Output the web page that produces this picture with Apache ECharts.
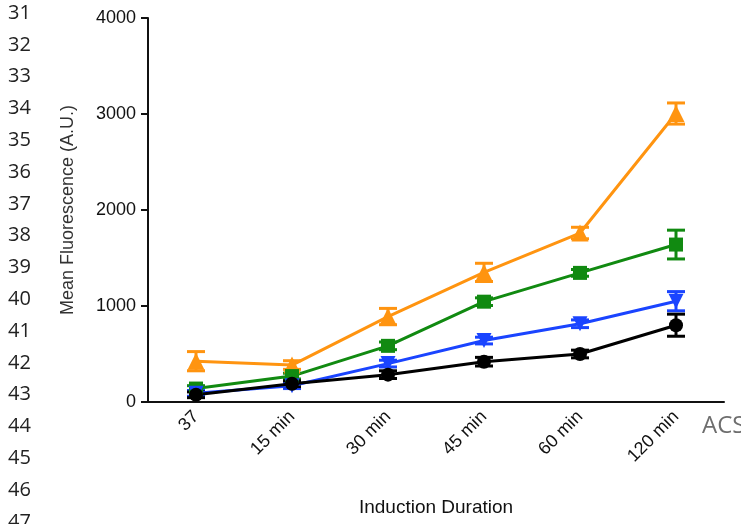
<!DOCTYPE html>
<html>
<head>
<meta charset="utf-8">
<script src="https://cdn.jsdelivr.net/npm/echarts@6/dist/echarts.min.js"></script>
<style>
  html, body { margin: 0; padding: 0; background: #fff; }
  #main { width: 741px; height: 524px; }
</style>
</head>
<body>
<div id="main"></div>
<script>
// categories on the x axis
var categories = ['37', '15 min', '30 min', '45 min', '60 min', '120 min'];
var yTicks = [0, 1000, 2000, 3000, 4000];
// manuscript line numbers down the left margin
var lineNumbers = ['31', '32', '33', '34', '35', '36', '37', '38', '39', '40', '41', '42', '43', '44', '45', '46', '47'];

// mean values per series
var orangeMean = [425, 385, 890, 1350, 1760, 3005];
var greenMean = [140, 270, 585, 1045, 1345, 1640];
var blueMean = [90, 170, 400, 640, 815, 1050];
var blackMean = [75, 190, 285, 420, 500, 800];
// error (+/-)
var orangeErr = [100, 45, 85, 95, 60, 110];
var greenErr = [30, 30, 40, 40, 35, 150];
var blueErr = [30, 30, 35, 35, 40, 100];
var blackErr = [30, 30, 40, 45, 40, 115];

var chart = echarts.init(document.getElementById('main'), null, { renderer: 'canvas' });

function errData(mean, err) {
  return mean.map(function (m, i) { return [i, m - err[i], m + err[i]]; });
}

function errSeries(mean, err, color) {
  return {
    type: 'custom',
    data: errData(mean, err),
    z: 3,
    silent: true,
    renderItem: function (params, api) {
      var x = api.value(0);
      var lo = api.coord([x, api.value(1)]);
      var hi = api.coord([x, api.value(2)]);
      var w = 9;
      var st = { stroke: color, lineWidth: 3 };
      return {
        type: 'group',
        children: [
          { type: 'line', shape: { x1: lo[0], y1: lo[1], x2: hi[0], y2: hi[1] }, style: st },
          { type: 'line', shape: { x1: hi[0] - w, y1: hi[1], x2: hi[0] + w, y2: hi[1] }, style: st },
          { type: 'line', shape: { x1: lo[0] - w, y1: lo[1], x2: lo[0] + w, y2: lo[1] }, style: st }
        ]
      };
    }
  };
}

function lineSeries(mean, color, symbol, size, rotate) {
  return {
    type: 'line',
    data: mean,
    symbol: symbol,
    symbolSize: size,
    symbolRotate: rotate || 0,
    showAllSymbol: true,
    z: 4,
    lineStyle: { color: color, width: 3 },
    itemStyle: { color: color },
    silent: true
  };
}

var graphics = lineNumbers.map(function (t, i) {
  return {
    type: 'text',
    left: 8,
    top: 3 + i * 31.8,
    style: { text: t, fill: '#222', font: '20px "Open Sans"' }
  };
});
graphics.push({
  type: 'text',
  left: 702,
  top: 414,
  style: { text: 'ACS', fill: '#6e6e6e', font: '24px "Open Sans"' }
});

var option = {
  animation: false,
  backgroundColor: '#fff',
  grid: { left: 148, right: 17, top: 18, bottom: 122, containLabel: false },
  xAxis: {
    type: 'category',
    data: categories,
    boundaryGap: true,
    name: 'Induction Duration',
    nameLocation: 'middle',
    nameGap: 96,
    nameTextStyle: { color: '#111', fontSize: 19, fontFamily: 'Liberation Sans', letterSpacing: -0.5 },
    axisLine: { lineStyle: { color: '#111', width: 2 } },
    axisTick: { alignWithLabel: true, length: 7, lineStyle: { color: '#111', width: 2 } },
    axisLabel: { rotate: 45, color: '#111', fontSize: 18, fontFamily: 'Liberation Sans', letterSpacing: -0.5, margin: 12 },
    splitLine: { show: false }
  },
  yAxis: {
    type: 'value',
    min: 0,
    max: 4000,
    interval: 1000,
    name: 'Mean Fluorescence (A.U.)',
    nameLocation: 'middle',
    nameGap: 71,
    nameTextStyle: { color: '#333', fontSize: 18, fontFamily: 'Liberation Sans', letterSpacing: -0.3 },
    axisLine: { show: true, lineStyle: { color: '#111', width: 2 } },
    axisTick: { show: true, length: 7, lineStyle: { color: '#111', width: 2 } },
    axisLabel: {
      color: '#111', fontSize: 18, fontFamily: 'Liberation Sans', letterSpacing: -0.5, margin: 12,
      formatter: function (v) { return yTicks.indexOf(v) >= 0 ? String(v) : ''; }
    },
    splitLine: { show: false }
  },
  graphic: graphics,
  series: [
    errSeries(orangeMean, orangeErr, '#ff9410'),
    lineSeries(orangeMean, '#ff9410', 'triangle', 17),
    errSeries(greenMean, greenErr, '#118a11'),
    lineSeries(greenMean, '#118a11', 'rect', 14),
    errSeries(blueMean, blueErr, '#1a44ff'),
    lineSeries(blueMean, '#1a44ff', 'triangle', 15, 180),
    errSeries(blackMean, blackErr, '#000'),
    lineSeries(blackMean, '#000', 'circle', 14)
  ]
};

chart.setOption(option);
</script>
</body>
</html>
